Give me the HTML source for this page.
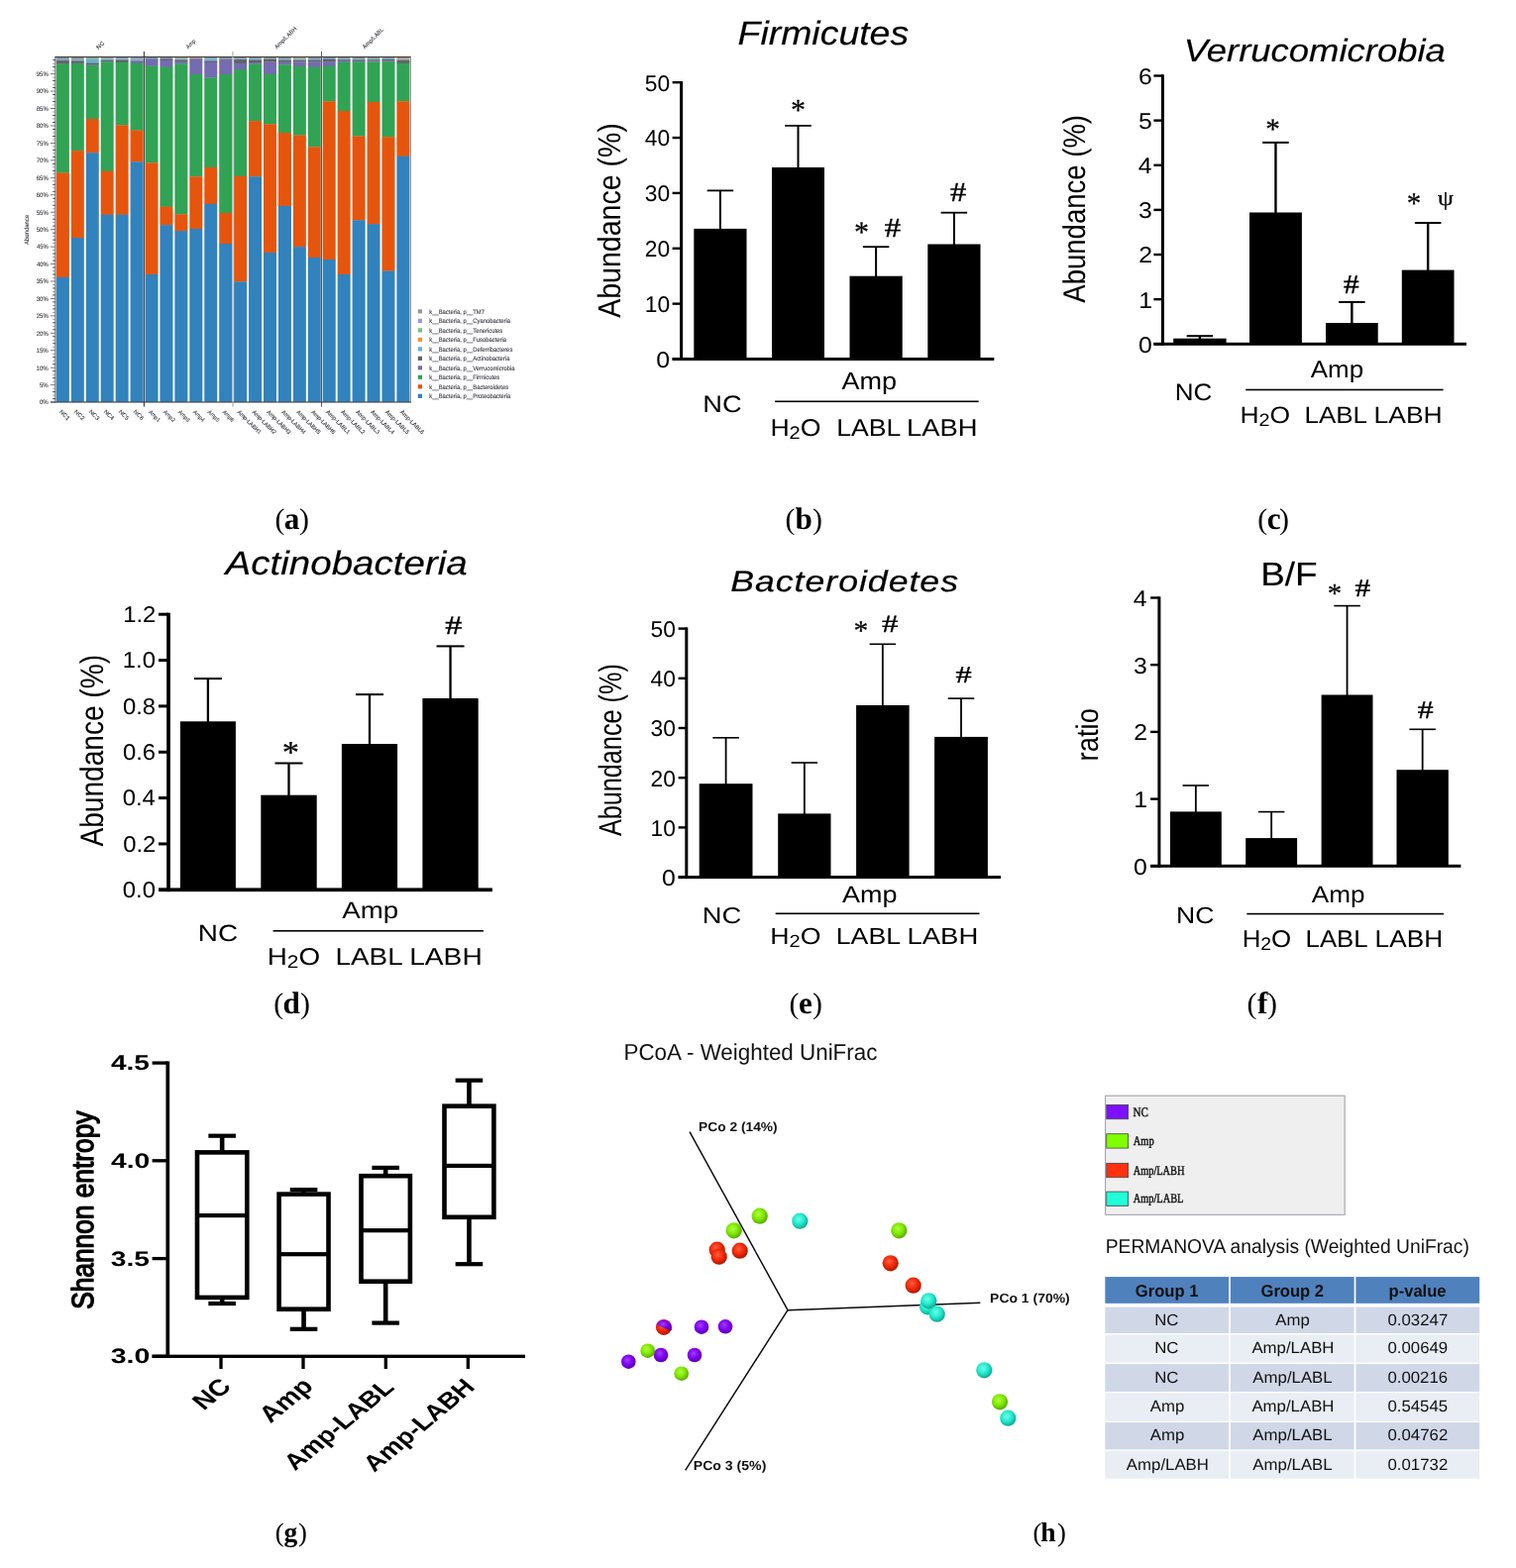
<!DOCTYPE html>
<html lang="en"><head><meta charset="utf-8"><title>Figure</title>
<style>html,body{margin:0;padding:0;background:#fff}svg{display:block}text{white-space:pre;text-rendering:geometricPrecision}</style></head>
<body>
<svg width="1530" height="1583" viewBox="0 0 1530 1583">
<rect width="1530" height="1583" fill="#fff"/>
<rect x="686.10" y="82.00" width="3.00" height="282.00" fill="#000"/>
<rect x="678.60" y="361.00" width="324.70" height="3.00" fill="#000"/>
<rect x="678.60" y="82.00" width="9.00" height="2.40" fill="#000"/>
<text transform="translate(650.74 91.60) scale(1.1377 1.1377)" font-family='"Liberation Sans", sans-serif' font-size="20" fill="#000">50</text>
<rect x="678.60" y="137.86" width="9.00" height="2.40" fill="#000"/>
<text transform="translate(650.74 147.46) scale(1.1377 1.1377)" font-family='"Liberation Sans", sans-serif' font-size="20" fill="#000">40</text>
<rect x="678.60" y="193.72" width="9.00" height="2.40" fill="#000"/>
<text transform="translate(650.74 203.32) scale(1.1377 1.1377)" font-family='"Liberation Sans", sans-serif' font-size="20" fill="#000">30</text>
<rect x="678.60" y="249.58" width="9.00" height="2.40" fill="#000"/>
<text transform="translate(650.74 259.18) scale(1.1377 1.1377)" font-family='"Liberation Sans", sans-serif' font-size="20" fill="#000">20</text>
<rect x="678.60" y="305.44" width="9.00" height="2.40" fill="#000"/>
<text transform="translate(650.74 315.04) scale(1.1377 1.1377)" font-family='"Liberation Sans", sans-serif' font-size="20" fill="#000">10</text>
<rect x="678.60" y="361.30" width="9.00" height="2.40" fill="#000"/>
<text transform="translate(662.30 370.90) scale(1.2401 1.1377)" font-family='"Liberation Sans", sans-serif' font-size="20" fill="#000">0</text>
<rect x="700.30" y="230.90" width="53.20" height="131.60" fill="#000"/>
<rect x="725.90" y="192.40" width="2.00" height="39.50" fill="#000"/>
<rect x="713.65" y="191.50" width="26.50" height="1.80" fill="#000"/>
<rect x="779.00" y="169.00" width="53.00" height="193.50" fill="#000"/>
<rect x="804.50" y="126.90" width="2.00" height="43.10" fill="#000"/>
<rect x="792.25" y="126.00" width="26.50" height="1.80" fill="#000"/>
<rect x="857.50" y="278.70" width="53.20" height="83.80" fill="#000"/>
<rect x="883.10" y="249.20" width="2.00" height="30.50" fill="#000"/>
<rect x="870.85" y="248.30" width="26.50" height="1.80" fill="#000"/>
<rect x="936.30" y="246.50" width="53.20" height="116.00" fill="#000"/>
<rect x="961.90" y="214.70" width="2.00" height="32.80" fill="#000"/>
<rect x="949.65" y="213.80" width="26.50" height="1.80" fill="#000"/>
<text transform="translate(744.58 44.60) scale(1.8706 1.6884)" font-family='"Liberation Sans", sans-serif' font-size="20" fill="#000" font-style="italic" stroke="#000" stroke-width="0.1">Firmicutes</text>
<text transform="rotate(-90 602.60 320.80) translate(602.60 344.14) scale(1.4261 1.6096)" font-family='"Liberation Sans", sans-serif' font-size="20" fill="#000">Abundance (%)</text>
<text transform="translate(709.32 415.80) scale(1.3623 1.1957)" font-family='"Liberation Sans", sans-serif' font-size="20" fill="#000">NC</text>
<text transform="translate(849.40 392.80) scale(1.3499 1.2319)" font-family='"Liberation Sans", sans-serif' font-size="20" fill="#000">Amp</text>
<text transform="translate(777.57 439.50) scale(1.3331 1.2101)" font-family='"Liberation Sans", sans-serif' font-size="20" fill="#000">H<tspan x="14.29" dy="2.90" font-size="15.00">2</tspan><tspan x="22.67" dy="-2.90">O</tspan></text>
<text transform="translate(844.17 439.50) scale(1.3319 1.2101)" font-family='"Liberation Sans", sans-serif' font-size="20" fill="#000">LABL</text>
<text transform="translate(915.01 439.50) scale(1.3694 1.2101)" font-family='"Liberation Sans", sans-serif' font-size="20" fill="#000">LABH</text>
<rect x="782.10" y="404.50" width="205.60" height="1.60" fill="#000"/>
<text transform="translate(797.90 121.00) scale(1.5000 1.5342)" font-family='"Liberation Serif", serif' font-size="20" fill="#000" stroke="#000" stroke-width="0.15">*</text>
<text transform="translate(861.90 244.36) scale(1.5000 1.4932)" font-family='"Liberation Serif", serif' font-size="20" fill="#000" stroke="#000" stroke-width="0.15">*</text>
<text transform="translate(892.65 238.90) scale(1.6304 1.3740)" font-family='"Liberation Serif", serif' font-size="20" fill="#000" stroke="#000" stroke-width="0.3">#</text>
<text transform="translate(958.95 202.80) scale(1.6196 1.3740)" font-family='"Liberation Serif", serif' font-size="20" fill="#000" stroke="#000" stroke-width="0.3">#</text>
<rect x="1171.90" y="75.30" width="3.00" height="273.50" fill="#000"/>
<rect x="1164.40" y="345.80" width="315.60" height="3.00" fill="#000"/>
<rect x="1164.40" y="75.30" width="9.00" height="2.40" fill="#000"/>
<text transform="translate(1149.03 84.90) scale(1.2401 1.1377)" font-family='"Liberation Sans", sans-serif' font-size="20" fill="#000">6</text>
<rect x="1164.40" y="120.43" width="9.00" height="2.40" fill="#000"/>
<text transform="translate(1149.03 130.03) scale(1.2401 1.1377)" font-family='"Liberation Sans", sans-serif' font-size="20" fill="#000">5</text>
<rect x="1164.40" y="165.57" width="9.00" height="2.40" fill="#000"/>
<text transform="translate(1148.78 175.17) scale(1.2401 1.1377)" font-family='"Liberation Sans", sans-serif' font-size="20" fill="#000">4</text>
<rect x="1164.40" y="210.70" width="9.00" height="2.40" fill="#000"/>
<text transform="translate(1149.03 220.30) scale(1.2401 1.1377)" font-family='"Liberation Sans", sans-serif' font-size="20" fill="#000">3</text>
<rect x="1164.40" y="255.83" width="9.00" height="2.40" fill="#000"/>
<text transform="translate(1149.28 265.43) scale(1.2401 1.1377)" font-family='"Liberation Sans", sans-serif' font-size="20" fill="#000">2</text>
<rect x="1164.40" y="300.97" width="9.00" height="2.40" fill="#000"/>
<text transform="translate(1149.15 310.57) scale(1.2401 1.1377)" font-family='"Liberation Sans", sans-serif' font-size="20" fill="#000">1</text>
<rect x="1164.40" y="346.10" width="9.00" height="2.40" fill="#000"/>
<text transform="translate(1148.90 355.70) scale(1.2401 1.1377)" font-family='"Liberation Sans", sans-serif' font-size="20" fill="#000">0</text>
<rect x="1184.20" y="341.70" width="53.40" height="5.60" fill="#000"/>
<rect x="1209.70" y="339.20" width="2.40" height="3.50" fill="#000"/>
<rect x="1197.65" y="338.20" width="26.50" height="2.00" fill="#000"/>
<rect x="1261.00" y="214.50" width="52.90" height="132.80" fill="#000"/>
<rect x="1286.25" y="143.90" width="2.40" height="71.60" fill="#000"/>
<rect x="1274.20" y="142.90" width="26.50" height="2.00" fill="#000"/>
<rect x="1338.00" y="326.00" width="52.70" height="21.30" fill="#000"/>
<rect x="1363.15" y="305.00" width="2.40" height="22.00" fill="#000"/>
<rect x="1351.10" y="304.00" width="26.50" height="2.00" fill="#000"/>
<rect x="1414.80" y="272.60" width="52.70" height="74.70" fill="#000"/>
<rect x="1439.95" y="225.00" width="2.40" height="48.60" fill="#000"/>
<rect x="1427.90" y="224.00" width="26.50" height="2.00" fill="#000"/>
<text transform="translate(1194.80 62.00) scale(1.8223 1.6087)" font-family='"Liberation Sans", sans-serif' font-size="20" fill="#000" font-style="italic" stroke="#000" stroke-width="0.1">Verrucomicrobia</text>
<text transform="rotate(-90 1072.10 305.70) translate(1072.10 328.50) scale(1.3763 1.5722)" font-family='"Liberation Sans", sans-serif' font-size="20" fill="#000">Abundance (%)</text>
<text transform="translate(1185.72 403.60) scale(1.3019 1.1957)" font-family='"Liberation Sans", sans-serif' font-size="20" fill="#000">NC</text>
<text transform="translate(1322.70 381.20) scale(1.2978 1.2101)" font-family='"Liberation Sans", sans-serif' font-size="20" fill="#000">Amp</text>
<text transform="translate(1251.58 426.60) scale(1.3247 1.1884)" font-family='"Liberation Sans", sans-serif' font-size="20" fill="#000">H<tspan x="14.29" dy="2.90" font-size="15.00">2</tspan><tspan x="22.67" dy="-2.90">O</tspan></text>
<text transform="translate(1316.42 426.60) scale(1.2998 1.1884)" font-family='"Liberation Sans", sans-serif' font-size="20" fill="#000">LABL</text>
<text transform="translate(1386.48 426.60) scale(1.3245 1.1884)" font-family='"Liberation Sans", sans-serif' font-size="20" fill="#000">LABH</text>
<rect x="1257.20" y="392.70" width="199.40" height="1.60" fill="#000"/>
<text transform="translate(1277.34 139.66) scale(1.4625 1.4932)" font-family='"Liberation Serif", serif' font-size="20" fill="#000" stroke="#000" stroke-width="0.15">*</text>
<text transform="translate(1356.07 295.50) scale(1.5652 1.3588)" font-family='"Liberation Serif", serif' font-size="20" fill="#000" stroke="#000" stroke-width="0.3">#</text>
<text transform="translate(1419.85 215.44) scale(1.4500 1.5068)" font-family='"Liberation Serif", serif' font-size="20" fill="#000" stroke="#000" stroke-width="0.15">*</text>
<text transform="translate(1450.92 207.44) scale(1.2667 1.0610)" font-family='"Liberation Serif", serif' font-size="20" fill="#000" stroke="#000" stroke-width="0.3">ψ</text>
<rect x="168.15" y="618.70" width="3.70" height="281.45" fill="#000"/>
<rect x="160.00" y="896.45" width="336.90" height="3.70" fill="#000"/>
<rect x="160.00" y="618.70" width="10.00" height="3.00" fill="#000"/>
<text transform="translate(124.19 627.80) scale(1.1907 1.1449)" font-family='"Liberation Sans", sans-serif' font-size="20" fill="#000">1.2</text>
<rect x="160.00" y="665.05" width="10.00" height="3.00" fill="#000"/>
<text transform="translate(123.83 674.15) scale(1.1907 1.1449)" font-family='"Liberation Sans", sans-serif' font-size="20" fill="#000">1.0</text>
<rect x="160.00" y="711.40" width="10.00" height="3.00" fill="#000"/>
<text transform="translate(123.95 720.50) scale(1.1907 1.1449)" font-family='"Liberation Sans", sans-serif' font-size="20" fill="#000">0.8</text>
<rect x="160.00" y="757.75" width="10.00" height="3.00" fill="#000"/>
<text transform="translate(123.95 766.85) scale(1.1907 1.1449)" font-family='"Liberation Sans", sans-serif' font-size="20" fill="#000">0.6</text>
<rect x="160.00" y="804.10" width="10.00" height="3.00" fill="#000"/>
<text transform="translate(123.71 813.20) scale(1.1907 1.1449)" font-family='"Liberation Sans", sans-serif' font-size="20" fill="#000">0.4</text>
<rect x="160.00" y="850.45" width="10.00" height="3.00" fill="#000"/>
<text transform="translate(124.19 859.55) scale(1.1907 1.1449)" font-family='"Liberation Sans", sans-serif' font-size="20" fill="#000">0.2</text>
<rect x="160.00" y="896.80" width="10.00" height="3.00" fill="#000"/>
<text transform="translate(123.83 905.90) scale(1.1907 1.1449)" font-family='"Liberation Sans", sans-serif' font-size="20" fill="#000">0.0</text>
<rect x="181.90" y="728.30" width="56.00" height="170.00" fill="#000"/>
<rect x="208.75" y="685.10" width="2.30" height="44.20" fill="#000"/>
<rect x="195.90" y="684.10" width="28.00" height="2.00" fill="#000"/>
<rect x="263.30" y="802.70" width="56.40" height="95.60" fill="#000"/>
<rect x="290.35" y="770.50" width="2.30" height="33.20" fill="#000"/>
<rect x="277.50" y="769.50" width="28.00" height="2.00" fill="#000"/>
<rect x="344.90" y="751.00" width="56.20" height="147.30" fill="#000"/>
<rect x="371.85" y="701.10" width="2.30" height="50.90" fill="#000"/>
<rect x="359.00" y="700.10" width="28.00" height="2.00" fill="#000"/>
<rect x="426.40" y="705.00" width="56.30" height="193.30" fill="#000"/>
<rect x="453.40" y="652.40" width="2.30" height="53.60" fill="#000"/>
<rect x="440.55" y="651.40" width="28.00" height="2.00" fill="#000"/>
<text transform="translate(227.53 580.30) scale(1.9268 1.6884)" font-family='"Liberation Sans", sans-serif' font-size="20" fill="#000" font-style="italic" stroke="#000" stroke-width="0.1">Actinobacteria</text>
<text transform="rotate(-90 79.70 854.60) translate(79.70 878.40) scale(1.4048 1.6417)" font-family='"Liberation Sans", sans-serif' font-size="20" fill="#000">Abundance (%)</text>
<text transform="translate(199.77 949.50) scale(1.3962 1.1739)" font-family='"Liberation Sans", sans-serif' font-size="20" fill="#000">NC</text>
<text transform="translate(345.30 927.10) scale(1.3846 1.1812)" font-family='"Liberation Sans", sans-serif' font-size="20" fill="#000">Amp</text>
<text transform="translate(269.87 973.50) scale(1.3922 1.2101)" font-family='"Liberation Sans", sans-serif' font-size="20" fill="#000">H<tspan x="14.29" dy="2.90" font-size="15.00">2</tspan><tspan x="22.67" dy="-2.90">O</tspan></text>
<text transform="translate(338.47 973.50) scale(1.3961 1.2101)" font-family='"Liberation Sans", sans-serif' font-size="20" fill="#000">LABL</text>
<text transform="translate(413.15 973.50) scale(1.4082 1.2101)" font-family='"Liberation Sans", sans-serif' font-size="20" fill="#000">LABH</text>
<rect x="275.60" y="939.00" width="212.30" height="1.60" fill="#000"/>
<text transform="translate(284.68 770.30) scale(1.7250 1.6027)" font-family='"Liberation Serif", serif' font-size="20" fill="#000" stroke="#000" stroke-width="0.15">*</text>
<text transform="translate(449.32 640.30) scale(1.7065 1.3206)" font-family='"Liberation Serif", serif' font-size="20" fill="#000" stroke="#000" stroke-width="0.3">#</text>
<rect x="691.30" y="633.40" width="3.00" height="253.70" fill="#000"/>
<rect x="684.60" y="884.10" width="325.40" height="3.00" fill="#000"/>
<rect x="684.60" y="633.40" width="8.20" height="2.40" fill="#000"/>
<text transform="translate(656.54 643.00) scale(1.1377 1.1377)" font-family='"Liberation Sans", sans-serif' font-size="20" fill="#000">50</text>
<rect x="684.60" y="683.60" width="8.20" height="2.40" fill="#000"/>
<text transform="translate(656.54 693.20) scale(1.1377 1.1377)" font-family='"Liberation Sans", sans-serif' font-size="20" fill="#000">40</text>
<rect x="684.60" y="733.80" width="8.20" height="2.40" fill="#000"/>
<text transform="translate(656.54 743.40) scale(1.1377 1.1377)" font-family='"Liberation Sans", sans-serif' font-size="20" fill="#000">30</text>
<rect x="684.60" y="784.00" width="8.20" height="2.40" fill="#000"/>
<text transform="translate(656.54 793.60) scale(1.1377 1.1377)" font-family='"Liberation Sans", sans-serif' font-size="20" fill="#000">20</text>
<rect x="684.60" y="834.20" width="8.20" height="2.40" fill="#000"/>
<text transform="translate(656.54 843.80) scale(1.1377 1.1377)" font-family='"Liberation Sans", sans-serif' font-size="20" fill="#000">10</text>
<rect x="684.60" y="884.40" width="8.20" height="2.40" fill="#000"/>
<text transform="translate(668.10 894.00) scale(1.2401 1.1377)" font-family='"Liberation Sans", sans-serif' font-size="20" fill="#000">0</text>
<rect x="705.70" y="791.20" width="53.80" height="94.40" fill="#000"/>
<rect x="731.70" y="744.80" width="1.80" height="47.40" fill="#000"/>
<rect x="719.35" y="744.00" width="26.50" height="1.60" fill="#000"/>
<rect x="785.20" y="821.40" width="53.30" height="64.20" fill="#000"/>
<rect x="810.95" y="770.00" width="1.80" height="52.40" fill="#000"/>
<rect x="798.60" y="769.20" width="26.50" height="1.60" fill="#000"/>
<rect x="864.10" y="712.00" width="53.50" height="173.60" fill="#000"/>
<rect x="889.95" y="650.30" width="1.80" height="62.70" fill="#000"/>
<rect x="877.60" y="649.50" width="26.50" height="1.60" fill="#000"/>
<rect x="943.10" y="743.90" width="53.80" height="141.70" fill="#000"/>
<rect x="969.10" y="705.10" width="1.80" height="39.80" fill="#000"/>
<rect x="956.75" y="704.30" width="26.50" height="1.60" fill="#000"/>
<text transform="translate(737.23 597.00) scale(1.7826 1.4855)" font-family='"Liberation Sans", sans-serif' font-size="20" letter-spacing="0.550" fill="#000" font-style="italic" stroke="#000" stroke-width="0.15">Bacteroidetes</text>
<text transform="rotate(-90 603.30 844.10) translate(603.30 867.52) scale(1.2613 1.6150)" font-family='"Liberation Sans", sans-serif' font-size="20" fill="#000">Abundance (%)</text>
<text transform="translate(708.71 931.80) scale(1.3660 1.1377)" font-family='"Liberation Sans", sans-serif' font-size="20" fill="#000">NC</text>
<text transform="translate(850.00 910.80) scale(1.3499 1.1812)" font-family='"Liberation Sans", sans-serif' font-size="20" fill="#000">Amp</text>
<text transform="translate(777.36 953.10) scale(1.3359 1.1667)" font-family='"Liberation Sans", sans-serif' font-size="20" fill="#000">H<tspan x="14.29" dy="2.90" font-size="15.00">2</tspan><tspan x="22.67" dy="-2.90">O</tspan></text>
<text transform="translate(843.77 953.10) scale(1.3340 1.1667)" font-family='"Liberation Sans", sans-serif' font-size="20" fill="#000">LABL</text>
<text transform="translate(915.40 953.10) scale(1.3755 1.1667)" font-family='"Liberation Sans", sans-serif' font-size="20" fill="#000">LABH</text>
<rect x="782.70" y="921.50" width="205.80" height="1.60" fill="#000"/>
<text transform="translate(861.62 645.84) scale(1.4750 1.4384)" font-family='"Liberation Serif", serif' font-size="20" fill="#000" stroke="#000" stroke-width="0.15">*</text>
<text transform="translate(889.94 638.20) scale(1.6522 1.2443)" font-family='"Liberation Serif", serif' font-size="20" fill="#000" stroke="#000" stroke-width="0.3">#</text>
<text transform="translate(964.45 688.60) scale(1.6196 1.1985)" font-family='"Liberation Serif", serif' font-size="20" fill="#000" stroke="#000" stroke-width="0.3">#</text>
<rect x="1168.40" y="602.30" width="3.00" height="273.50" fill="#000"/>
<rect x="1161.10" y="872.80" width="313.30" height="3.00" fill="#000"/>
<rect x="1161.10" y="602.30" width="8.80" height="2.40" fill="#000"/>
<text transform="translate(1143.78 611.90) scale(1.2401 1.1377)" font-family='"Liberation Sans", sans-serif' font-size="20" fill="#000">4</text>
<rect x="1161.10" y="670.00" width="8.80" height="2.40" fill="#000"/>
<text transform="translate(1144.03 679.60) scale(1.2401 1.1377)" font-family='"Liberation Sans", sans-serif' font-size="20" fill="#000">3</text>
<rect x="1161.10" y="737.70" width="8.80" height="2.40" fill="#000"/>
<text transform="translate(1144.28 747.30) scale(1.2401 1.1377)" font-family='"Liberation Sans", sans-serif' font-size="20" fill="#000">2</text>
<rect x="1161.10" y="805.40" width="8.80" height="2.40" fill="#000"/>
<text transform="translate(1144.15 815.00) scale(1.2401 1.1377)" font-family='"Liberation Sans", sans-serif' font-size="20" fill="#000">1</text>
<rect x="1161.10" y="873.10" width="8.80" height="2.40" fill="#000"/>
<text transform="translate(1143.90 882.70) scale(1.2401 1.1377)" font-family='"Liberation Sans", sans-serif' font-size="20" fill="#000">0</text>
<rect x="1180.90" y="819.40" width="51.90" height="54.90" fill="#000"/>
<rect x="1205.95" y="793.00" width="1.80" height="27.40" fill="#000"/>
<rect x="1193.60" y="792.20" width="26.50" height="1.60" fill="#000"/>
<rect x="1257.20" y="846.10" width="51.90" height="28.20" fill="#000"/>
<rect x="1282.25" y="819.60" width="1.80" height="27.50" fill="#000"/>
<rect x="1269.90" y="818.80" width="26.50" height="1.60" fill="#000"/>
<rect x="1333.60" y="701.50" width="51.90" height="172.80" fill="#000"/>
<rect x="1358.65" y="611.60" width="1.80" height="90.90" fill="#000"/>
<rect x="1346.30" y="610.80" width="26.50" height="1.60" fill="#000"/>
<rect x="1409.50" y="777.20" width="52.30" height="97.10" fill="#000"/>
<rect x="1434.75" y="736.30" width="1.80" height="41.90" fill="#000"/>
<rect x="1422.40" y="735.50" width="26.50" height="1.60" fill="#000"/>
<text transform="translate(1272.15 590.60) scale(1.8432 1.6739)" font-family='"Liberation Sans", sans-serif' font-size="20" fill="#000" stroke="#000" stroke-width="0.1">B/F</text>
<text transform="rotate(-90 1084.90 766.70) translate(1083.12 789.39) scale(1.3723 1.5646)" font-family='"Liberation Sans", sans-serif' font-size="20" fill="#000">ratio</text>
<text transform="translate(1187.07 932.20) scale(1.3283 1.1667)" font-family='"Liberation Sans", sans-serif' font-size="20" fill="#000">NC</text>
<text transform="translate(1323.80 910.80) scale(1.3077 1.1812)" font-family='"Liberation Sans", sans-serif' font-size="20" fill="#000">Amp</text>
<text transform="translate(1253.73 955.80) scale(1.2938 1.2101)" font-family='"Liberation Sans", sans-serif' font-size="20" fill="#000">H<tspan x="14.29" dy="2.90" font-size="15.00">2</tspan><tspan x="22.67" dy="-2.90">O</tspan></text>
<text transform="translate(1317.54 955.80) scale(1.2891 1.2101)" font-family='"Liberation Sans", sans-serif' font-size="20" fill="#000">LABL</text>
<text transform="translate(1387.60 955.80) scale(1.3102 1.2101)" font-family='"Liberation Sans", sans-serif' font-size="20" fill="#000">LABH</text>
<rect x="1258.30" y="921.80" width="198.70" height="1.60" fill="#000"/>
<text transform="translate(1339.86 608.42) scale(1.4375 1.3836)" font-family='"Liberation Serif", serif' font-size="20" fill="#000" stroke="#000" stroke-width="0.15">*</text>
<text transform="translate(1367.38 602.10) scale(1.5435 1.2595)" font-family='"Liberation Serif", serif' font-size="20" fill="#000" stroke="#000" stroke-width="0.3">#</text>
<text transform="translate(1430.87 725.20) scale(1.5870 1.2595)" font-family='"Liberation Serif", serif' font-size="20" fill="#000" stroke="#000" stroke-width="0.3">#</text>
<rect x="56.90" y="57.90" width="13.00" height="2.11" fill="#999999"/>
<rect x="56.90" y="59.71" width="13.00" height="1.70" fill="#6baed6"/>
<rect x="56.90" y="61.11" width="13.00" height="3.72" fill="#636363"/>
<rect x="56.90" y="64.53" width="13.00" height="110.20" fill="#31a354"/>
<rect x="56.90" y="174.43" width="13.00" height="105.67" fill="#e6550d"/>
<rect x="56.90" y="279.80" width="13.00" height="126.30" fill="#3182bd"/>
<rect x="71.83" y="57.90" width="13.00" height="2.64" fill="#999999"/>
<rect x="71.83" y="60.24" width="13.00" height="1.52" fill="#6baed6"/>
<rect x="71.83" y="61.46" width="13.00" height="2.50" fill="#636363"/>
<rect x="71.83" y="63.65" width="13.00" height="0.47" fill="#756bb1"/>
<rect x="71.83" y="63.83" width="13.00" height="88.57" fill="#31a354"/>
<rect x="71.83" y="152.10" width="13.00" height="88.22" fill="#e6550d"/>
<rect x="71.83" y="240.02" width="13.00" height="166.08" fill="#3182bd"/>
<rect x="86.77" y="57.90" width="13.00" height="2.46" fill="#8fb595"/>
<rect x="86.77" y="60.06" width="13.00" height="3.96" fill="#6baed6"/>
<rect x="86.77" y="63.72" width="13.00" height="1.97" fill="#636363"/>
<rect x="86.77" y="65.40" width="13.00" height="0.82" fill="#756bb1"/>
<rect x="86.77" y="65.92" width="13.00" height="54.38" fill="#31a354"/>
<rect x="86.77" y="120.00" width="13.00" height="34.49" fill="#e6550d"/>
<rect x="86.77" y="154.19" width="13.00" height="251.91" fill="#3182bd"/>
<rect x="101.70" y="57.90" width="13.00" height="1.59" fill="#c8a078"/>
<rect x="101.70" y="59.19" width="13.00" height="2.04" fill="#6baed6"/>
<rect x="101.70" y="60.93" width="13.00" height="1.63" fill="#636363"/>
<rect x="101.70" y="62.26" width="13.00" height="110.73" fill="#31a354"/>
<rect x="101.70" y="172.69" width="13.00" height="44.26" fill="#e6550d"/>
<rect x="101.70" y="216.65" width="13.00" height="189.45" fill="#3182bd"/>
<rect x="116.64" y="57.90" width="13.00" height="1.76" fill="#999999"/>
<rect x="116.64" y="59.36" width="13.00" height="1.52" fill="#6baed6"/>
<rect x="116.64" y="60.58" width="13.00" height="2.50" fill="#636363"/>
<rect x="116.64" y="62.78" width="13.00" height="63.80" fill="#31a354"/>
<rect x="116.64" y="126.28" width="13.00" height="90.67" fill="#e6550d"/>
<rect x="116.64" y="216.65" width="13.00" height="189.45" fill="#3182bd"/>
<rect x="131.57" y="57.90" width="13.00" height="2.64" fill="#a09cc0"/>
<rect x="131.57" y="60.24" width="13.00" height="1.70" fill="#6baed6"/>
<rect x="131.57" y="61.63" width="13.00" height="1.28" fill="#636363"/>
<rect x="131.57" y="62.61" width="13.00" height="1.52" fill="#756bb1"/>
<rect x="131.57" y="63.83" width="13.00" height="67.99" fill="#31a354"/>
<rect x="131.57" y="131.52" width="13.00" height="32.05" fill="#e6550d"/>
<rect x="131.57" y="163.27" width="13.00" height="242.83" fill="#3182bd"/>
<rect x="146.51" y="57.90" width="13.00" height="1.24" fill="#999999"/>
<rect x="146.51" y="58.84" width="13.00" height="1.17" fill="#6baed6"/>
<rect x="146.51" y="59.71" width="13.00" height="0.40" fill="#636363"/>
<rect x="146.51" y="59.82" width="13.00" height="7.10" fill="#756bb1"/>
<rect x="146.51" y="66.62" width="13.00" height="97.99" fill="#31a354"/>
<rect x="146.51" y="164.31" width="13.00" height="112.99" fill="#e6550d"/>
<rect x="146.51" y="277.01" width="13.00" height="129.09" fill="#3182bd"/>
<rect x="161.44" y="57.90" width="13.00" height="1.59" fill="#999999"/>
<rect x="161.44" y="59.19" width="13.00" height="0.47" fill="#6baed6"/>
<rect x="161.44" y="59.36" width="13.00" height="1.80" fill="#636363"/>
<rect x="161.44" y="60.86" width="13.00" height="7.10" fill="#756bb1"/>
<rect x="161.44" y="67.67" width="13.00" height="141.26" fill="#31a354"/>
<rect x="161.44" y="208.62" width="13.00" height="18.79" fill="#e6550d"/>
<rect x="161.44" y="227.11" width="13.00" height="178.99" fill="#3182bd"/>
<rect x="176.38" y="57.90" width="13.00" height="1.59" fill="#c8a078"/>
<rect x="176.38" y="59.19" width="13.00" height="1.70" fill="#6baed6"/>
<rect x="176.38" y="60.58" width="13.00" height="1.80" fill="#636363"/>
<rect x="176.38" y="62.08" width="13.00" height="2.39" fill="#756bb1"/>
<rect x="176.38" y="64.18" width="13.00" height="152.42" fill="#31a354"/>
<rect x="176.38" y="216.30" width="13.00" height="17.05" fill="#e6550d"/>
<rect x="176.38" y="233.05" width="13.00" height="173.05" fill="#3182bd"/>
<rect x="191.31" y="57.90" width="13.00" height="1.41" fill="#c8a078"/>
<rect x="191.31" y="59.01" width="13.00" height="0.65" fill="#6baed6"/>
<rect x="191.31" y="59.36" width="13.00" height="0.40" fill="#636363"/>
<rect x="191.31" y="59.47" width="13.00" height="15.83" fill="#756bb1"/>
<rect x="191.31" y="74.99" width="13.00" height="103.57" fill="#31a354"/>
<rect x="191.31" y="178.27" width="13.00" height="52.98" fill="#e6550d"/>
<rect x="191.31" y="230.95" width="13.00" height="175.15" fill="#3182bd"/>
<rect x="206.25" y="57.90" width="13.00" height="1.76" fill="#999999"/>
<rect x="206.25" y="59.36" width="13.00" height="2.57" fill="#6baed6"/>
<rect x="206.25" y="61.63" width="13.00" height="1.63" fill="#636363"/>
<rect x="206.25" y="62.96" width="13.00" height="15.83" fill="#756bb1"/>
<rect x="206.25" y="78.48" width="13.00" height="90.67" fill="#31a354"/>
<rect x="206.25" y="168.85" width="13.00" height="37.28" fill="#e6550d"/>
<rect x="206.25" y="205.83" width="13.00" height="200.27" fill="#3182bd"/>
<rect x="221.19" y="57.90" width="13.00" height="1.94" fill="#999999"/>
<rect x="221.19" y="59.54" width="13.00" height="0.47" fill="#6baed6"/>
<rect x="221.19" y="59.71" width="13.00" height="1.10" fill="#636363"/>
<rect x="221.19" y="60.51" width="13.00" height="14.78" fill="#756bb1"/>
<rect x="221.19" y="74.99" width="13.00" height="140.21" fill="#31a354"/>
<rect x="221.19" y="214.90" width="13.00" height="31.35" fill="#e6550d"/>
<rect x="221.19" y="245.95" width="13.00" height="160.15" fill="#3182bd"/>
<rect x="236.12" y="57.90" width="13.00" height="1.59" fill="#999999"/>
<rect x="236.12" y="59.19" width="13.00" height="1.17" fill="#6baed6"/>
<rect x="236.12" y="60.06" width="13.00" height="4.07" fill="#636363"/>
<rect x="236.12" y="63.83" width="13.00" height="6.41" fill="#756bb1"/>
<rect x="236.12" y="69.93" width="13.00" height="108.28" fill="#31a354"/>
<rect x="236.12" y="177.92" width="13.00" height="106.71" fill="#e6550d"/>
<rect x="236.12" y="284.33" width="13.00" height="121.77" fill="#3182bd"/>
<rect x="251.06" y="57.90" width="13.00" height="1.76" fill="#999999"/>
<rect x="251.06" y="59.36" width="13.00" height="1.52" fill="#6baed6"/>
<rect x="251.06" y="60.58" width="13.00" height="2.67" fill="#636363"/>
<rect x="251.06" y="62.96" width="13.00" height="1.87" fill="#756bb1"/>
<rect x="251.06" y="64.53" width="13.00" height="57.87" fill="#31a354"/>
<rect x="251.06" y="122.10" width="13.00" height="56.47" fill="#e6550d"/>
<rect x="251.06" y="178.27" width="13.00" height="227.83" fill="#3182bd"/>
<rect x="265.99" y="57.90" width="13.00" height="1.94" fill="#999999"/>
<rect x="265.99" y="59.54" width="13.00" height="0.47" fill="#6baed6"/>
<rect x="265.99" y="59.71" width="13.00" height="3.02" fill="#636363"/>
<rect x="265.99" y="62.43" width="13.00" height="12.86" fill="#756bb1"/>
<rect x="265.99" y="74.99" width="13.00" height="50.54" fill="#31a354"/>
<rect x="265.99" y="125.24" width="13.00" height="130.09" fill="#e6550d"/>
<rect x="265.99" y="255.03" width="13.00" height="151.07" fill="#3182bd"/>
<rect x="280.93" y="57.90" width="13.00" height="2.11" fill="#999999"/>
<rect x="280.93" y="59.71" width="13.00" height="1.52" fill="#6baed6"/>
<rect x="280.93" y="60.93" width="13.00" height="1.97" fill="#636363"/>
<rect x="280.93" y="62.61" width="13.00" height="2.92" fill="#756bb1"/>
<rect x="280.93" y="65.22" width="13.00" height="69.03" fill="#31a354"/>
<rect x="280.93" y="133.96" width="13.00" height="74.27" fill="#e6550d"/>
<rect x="280.93" y="207.92" width="13.00" height="198.18" fill="#3182bd"/>
<rect x="295.86" y="57.90" width="13.00" height="1.94" fill="#c8a078"/>
<rect x="295.86" y="59.54" width="13.00" height="1.70" fill="#6baed6"/>
<rect x="295.86" y="60.93" width="13.00" height="1.63" fill="#636363"/>
<rect x="295.86" y="62.26" width="13.00" height="5.01" fill="#756bb1"/>
<rect x="295.86" y="66.97" width="13.00" height="69.73" fill="#31a354"/>
<rect x="295.86" y="136.40" width="13.00" height="112.99" fill="#e6550d"/>
<rect x="295.86" y="249.10" width="13.00" height="157.00" fill="#3182bd"/>
<rect x="310.80" y="57.90" width="13.00" height="2.11" fill="#999999"/>
<rect x="310.80" y="59.71" width="13.00" height="1.35" fill="#6baed6"/>
<rect x="310.80" y="60.76" width="13.00" height="1.80" fill="#636363"/>
<rect x="310.80" y="62.26" width="13.00" height="5.71" fill="#756bb1"/>
<rect x="310.80" y="67.67" width="13.00" height="80.90" fill="#31a354"/>
<rect x="310.80" y="148.26" width="13.00" height="111.95" fill="#e6550d"/>
<rect x="310.80" y="259.91" width="13.00" height="146.19" fill="#3182bd"/>
<rect x="325.73" y="57.90" width="13.00" height="1.24" fill="#999999"/>
<rect x="325.73" y="58.84" width="13.00" height="1.17" fill="#6baed6"/>
<rect x="325.73" y="59.71" width="13.00" height="2.67" fill="#636363"/>
<rect x="325.73" y="62.08" width="13.00" height="5.01" fill="#756bb1"/>
<rect x="325.73" y="66.79" width="13.00" height="35.71" fill="#31a354"/>
<rect x="325.73" y="102.21" width="13.00" height="160.10" fill="#e6550d"/>
<rect x="325.73" y="262.00" width="13.00" height="144.10" fill="#3182bd"/>
<rect x="340.66" y="57.90" width="13.00" height="1.76" fill="#999999"/>
<rect x="340.66" y="59.36" width="13.00" height="1.17" fill="#6baed6"/>
<rect x="340.66" y="60.24" width="13.00" height="0.93" fill="#636363"/>
<rect x="340.66" y="60.86" width="13.00" height="2.04" fill="#756bb1"/>
<rect x="340.66" y="62.61" width="13.00" height="49.67" fill="#31a354"/>
<rect x="340.66" y="111.98" width="13.00" height="165.33" fill="#e6550d"/>
<rect x="340.66" y="277.01" width="13.00" height="129.09" fill="#3182bd"/>
<rect x="355.60" y="57.90" width="13.00" height="2.11" fill="#999999"/>
<rect x="355.60" y="59.71" width="13.00" height="1.17" fill="#6baed6"/>
<rect x="355.60" y="60.58" width="13.00" height="1.45" fill="#636363"/>
<rect x="355.60" y="61.74" width="13.00" height="1.00" fill="#756bb1"/>
<rect x="355.60" y="62.43" width="13.00" height="75.31" fill="#31a354"/>
<rect x="355.60" y="137.45" width="13.00" height="85.08" fill="#e6550d"/>
<rect x="355.60" y="222.23" width="13.00" height="183.87" fill="#3182bd"/>
<rect x="370.53" y="57.90" width="13.00" height="1.94" fill="#999999"/>
<rect x="370.53" y="59.54" width="13.00" height="1.00" fill="#6baed6"/>
<rect x="370.53" y="60.24" width="13.00" height="1.45" fill="#636363"/>
<rect x="370.53" y="61.39" width="13.00" height="1.17" fill="#756bb1"/>
<rect x="370.53" y="62.26" width="13.00" height="40.95" fill="#31a354"/>
<rect x="370.53" y="102.91" width="13.00" height="123.46" fill="#e6550d"/>
<rect x="370.53" y="226.07" width="13.00" height="180.03" fill="#3182bd"/>
<rect x="385.47" y="57.90" width="13.00" height="1.59" fill="#999999"/>
<rect x="385.47" y="59.19" width="13.00" height="1.00" fill="#6baed6"/>
<rect x="385.47" y="59.89" width="13.00" height="1.63" fill="#636363"/>
<rect x="385.47" y="61.21" width="13.00" height="1.17" fill="#756bb1"/>
<rect x="385.47" y="62.08" width="13.00" height="76.36" fill="#31a354"/>
<rect x="385.47" y="138.14" width="13.00" height="135.67" fill="#e6550d"/>
<rect x="385.47" y="273.52" width="13.00" height="132.58" fill="#3182bd"/>
<rect x="400.40" y="57.90" width="13.00" height="2.29" fill="#c8a078"/>
<rect x="400.40" y="59.89" width="13.00" height="1.35" fill="#6baed6"/>
<rect x="400.40" y="60.93" width="13.00" height="3.20" fill="#636363"/>
<rect x="400.40" y="63.83" width="13.00" height="38.68" fill="#31a354"/>
<rect x="400.40" y="102.21" width="13.00" height="55.78" fill="#e6550d"/>
<rect x="400.40" y="157.68" width="13.00" height="248.42" fill="#3182bd"/>
<rect x="55.30" y="57.05" width="359.50" height="1.00" fill="#2a2a2a"/>
<rect x="55.35" y="57.60" width="1.00" height="349.00" fill="#555"/>
<rect x="413.90" y="57.60" width="1.00" height="349.00" fill="#8a8a8a"/>
<rect x="51.00" y="405.35" width="363.90" height="1.20" fill="#4a4a4a"/>
<rect x="144.85" y="52.00" width="1.00" height="358.60" fill="#2a2a2a"/>
<rect x="234.45" y="52.00" width="1.00" height="358.60" fill="#a0a0a0"/>
<rect x="324.05" y="52.00" width="1.00" height="358.60" fill="#505050"/>
<rect x="51.00" y="405.65" width="4.90" height="0.90" fill="#6a6a6a"/>
<rect x="53.10" y="402.16" width="2.80" height="0.90" fill="#3a3a3a"/>
<rect x="53.10" y="398.67" width="2.80" height="0.90" fill="#8a8a8a"/>
<rect x="53.10" y="395.18" width="2.80" height="0.90" fill="#3a3a3a"/>
<rect x="53.10" y="391.69" width="2.80" height="0.90" fill="#8a8a8a"/>
<rect x="51.00" y="388.21" width="4.90" height="0.90" fill="#6a6a6a"/>
<rect x="53.10" y="384.72" width="2.80" height="0.90" fill="#8a8a8a"/>
<rect x="53.10" y="381.23" width="2.80" height="0.90" fill="#3a3a3a"/>
<rect x="53.10" y="377.74" width="2.80" height="0.90" fill="#8a8a8a"/>
<rect x="53.10" y="374.25" width="2.80" height="0.90" fill="#3a3a3a"/>
<rect x="51.00" y="370.76" width="4.90" height="0.90" fill="#6a6a6a"/>
<rect x="53.10" y="367.27" width="2.80" height="0.90" fill="#3a3a3a"/>
<rect x="53.10" y="363.78" width="2.80" height="0.90" fill="#8a8a8a"/>
<rect x="53.10" y="360.29" width="2.80" height="0.90" fill="#3a3a3a"/>
<rect x="53.10" y="356.80" width="2.80" height="0.90" fill="#8a8a8a"/>
<rect x="51.00" y="353.32" width="4.90" height="0.90" fill="#6a6a6a"/>
<rect x="53.10" y="349.83" width="2.80" height="0.90" fill="#8a8a8a"/>
<rect x="53.10" y="346.34" width="2.80" height="0.90" fill="#3a3a3a"/>
<rect x="53.10" y="342.85" width="2.80" height="0.90" fill="#8a8a8a"/>
<rect x="53.10" y="339.36" width="2.80" height="0.90" fill="#3a3a3a"/>
<rect x="51.00" y="335.87" width="4.90" height="0.90" fill="#6a6a6a"/>
<rect x="53.10" y="332.38" width="2.80" height="0.90" fill="#3a3a3a"/>
<rect x="53.10" y="328.89" width="2.80" height="0.90" fill="#8a8a8a"/>
<rect x="53.10" y="325.40" width="2.80" height="0.90" fill="#3a3a3a"/>
<rect x="53.10" y="321.91" width="2.80" height="0.90" fill="#8a8a8a"/>
<rect x="51.00" y="318.43" width="4.90" height="0.90" fill="#6a6a6a"/>
<rect x="53.10" y="314.94" width="2.80" height="0.90" fill="#8a8a8a"/>
<rect x="53.10" y="311.45" width="2.80" height="0.90" fill="#3a3a3a"/>
<rect x="53.10" y="307.96" width="2.80" height="0.90" fill="#8a8a8a"/>
<rect x="53.10" y="304.47" width="2.80" height="0.90" fill="#3a3a3a"/>
<rect x="51.00" y="300.98" width="4.90" height="0.90" fill="#6a6a6a"/>
<rect x="53.10" y="297.49" width="2.80" height="0.90" fill="#3a3a3a"/>
<rect x="53.10" y="294.00" width="2.80" height="0.90" fill="#8a8a8a"/>
<rect x="53.10" y="290.51" width="2.80" height="0.90" fill="#3a3a3a"/>
<rect x="53.10" y="287.02" width="2.80" height="0.90" fill="#8a8a8a"/>
<rect x="51.00" y="283.54" width="4.90" height="0.90" fill="#6a6a6a"/>
<rect x="53.10" y="280.05" width="2.80" height="0.90" fill="#8a8a8a"/>
<rect x="53.10" y="276.56" width="2.80" height="0.90" fill="#3a3a3a"/>
<rect x="53.10" y="273.07" width="2.80" height="0.90" fill="#8a8a8a"/>
<rect x="53.10" y="269.58" width="2.80" height="0.90" fill="#3a3a3a"/>
<rect x="51.00" y="266.09" width="4.90" height="0.90" fill="#6a6a6a"/>
<rect x="53.10" y="262.60" width="2.80" height="0.90" fill="#3a3a3a"/>
<rect x="53.10" y="259.11" width="2.80" height="0.90" fill="#8a8a8a"/>
<rect x="53.10" y="255.62" width="2.80" height="0.90" fill="#3a3a3a"/>
<rect x="53.10" y="252.13" width="2.80" height="0.90" fill="#8a8a8a"/>
<rect x="51.00" y="248.65" width="4.90" height="0.90" fill="#6a6a6a"/>
<rect x="53.10" y="245.16" width="2.80" height="0.90" fill="#8a8a8a"/>
<rect x="53.10" y="241.67" width="2.80" height="0.90" fill="#3a3a3a"/>
<rect x="53.10" y="238.18" width="2.80" height="0.90" fill="#8a8a8a"/>
<rect x="53.10" y="234.69" width="2.80" height="0.90" fill="#3a3a3a"/>
<rect x="51.00" y="231.20" width="4.90" height="0.90" fill="#6a6a6a"/>
<rect x="53.10" y="227.71" width="2.80" height="0.90" fill="#3a3a3a"/>
<rect x="53.10" y="224.22" width="2.80" height="0.90" fill="#8a8a8a"/>
<rect x="53.10" y="220.73" width="2.80" height="0.90" fill="#3a3a3a"/>
<rect x="53.10" y="217.24" width="2.80" height="0.90" fill="#8a8a8a"/>
<rect x="51.00" y="213.76" width="4.90" height="0.90" fill="#6a6a6a"/>
<rect x="53.10" y="210.27" width="2.80" height="0.90" fill="#8a8a8a"/>
<rect x="53.10" y="206.78" width="2.80" height="0.90" fill="#3a3a3a"/>
<rect x="53.10" y="203.29" width="2.80" height="0.90" fill="#8a8a8a"/>
<rect x="53.10" y="199.80" width="2.80" height="0.90" fill="#3a3a3a"/>
<rect x="51.00" y="196.31" width="4.90" height="0.90" fill="#6a6a6a"/>
<rect x="53.10" y="192.82" width="2.80" height="0.90" fill="#3a3a3a"/>
<rect x="53.10" y="189.33" width="2.80" height="0.90" fill="#8a8a8a"/>
<rect x="53.10" y="185.84" width="2.80" height="0.90" fill="#3a3a3a"/>
<rect x="53.10" y="182.35" width="2.80" height="0.90" fill="#8a8a8a"/>
<rect x="51.00" y="178.87" width="4.90" height="0.90" fill="#6a6a6a"/>
<rect x="53.10" y="175.38" width="2.80" height="0.90" fill="#8a8a8a"/>
<rect x="53.10" y="171.89" width="2.80" height="0.90" fill="#3a3a3a"/>
<rect x="53.10" y="168.40" width="2.80" height="0.90" fill="#8a8a8a"/>
<rect x="53.10" y="164.91" width="2.80" height="0.90" fill="#3a3a3a"/>
<rect x="51.00" y="161.42" width="4.90" height="0.90" fill="#6a6a6a"/>
<rect x="53.10" y="157.93" width="2.80" height="0.90" fill="#3a3a3a"/>
<rect x="53.10" y="154.44" width="2.80" height="0.90" fill="#8a8a8a"/>
<rect x="53.10" y="150.95" width="2.80" height="0.90" fill="#3a3a3a"/>
<rect x="53.10" y="147.46" width="2.80" height="0.90" fill="#8a8a8a"/>
<rect x="51.00" y="143.98" width="4.90" height="0.90" fill="#6a6a6a"/>
<rect x="53.10" y="140.49" width="2.80" height="0.90" fill="#8a8a8a"/>
<rect x="53.10" y="137.00" width="2.80" height="0.90" fill="#3a3a3a"/>
<rect x="53.10" y="133.51" width="2.80" height="0.90" fill="#8a8a8a"/>
<rect x="53.10" y="130.02" width="2.80" height="0.90" fill="#3a3a3a"/>
<rect x="51.00" y="126.53" width="4.90" height="0.90" fill="#6a6a6a"/>
<rect x="53.10" y="123.04" width="2.80" height="0.90" fill="#3a3a3a"/>
<rect x="53.10" y="119.55" width="2.80" height="0.90" fill="#8a8a8a"/>
<rect x="53.10" y="116.06" width="2.80" height="0.90" fill="#3a3a3a"/>
<rect x="53.10" y="112.57" width="2.80" height="0.90" fill="#8a8a8a"/>
<rect x="51.00" y="109.09" width="4.90" height="0.90" fill="#6a6a6a"/>
<rect x="53.10" y="105.60" width="2.80" height="0.90" fill="#8a8a8a"/>
<rect x="53.10" y="102.11" width="2.80" height="0.90" fill="#3a3a3a"/>
<rect x="53.10" y="98.62" width="2.80" height="0.90" fill="#8a8a8a"/>
<rect x="53.10" y="95.13" width="2.80" height="0.90" fill="#3a3a3a"/>
<rect x="51.00" y="91.64" width="4.90" height="0.90" fill="#6a6a6a"/>
<rect x="53.10" y="88.15" width="2.80" height="0.90" fill="#3a3a3a"/>
<rect x="53.10" y="84.66" width="2.80" height="0.90" fill="#8a8a8a"/>
<rect x="53.10" y="81.17" width="2.80" height="0.90" fill="#3a3a3a"/>
<rect x="53.10" y="77.68" width="2.80" height="0.90" fill="#8a8a8a"/>
<rect x="51.00" y="74.20" width="4.90" height="0.90" fill="#6a6a6a"/>
<rect x="53.10" y="70.71" width="2.80" height="0.90" fill="#8a8a8a"/>
<rect x="53.10" y="67.22" width="2.80" height="0.90" fill="#3a3a3a"/>
<rect x="53.10" y="63.73" width="2.80" height="0.90" fill="#8a8a8a"/>
<rect x="53.10" y="60.24" width="2.80" height="0.90" fill="#3a3a3a"/>
<text transform="translate(39.95 408.44) scale(0.3066 0.3239)" font-family='"Liberation Sans", sans-serif' font-size="20" fill="#3a3a42" stroke="#3a3a42" stroke-width="0.35">0%</text>
<text transform="translate(39.95 390.99) scale(0.3066 0.3262)" font-family='"Liberation Sans", sans-serif' font-size="20" fill="#3a3a42" stroke="#3a3a42" stroke-width="0.35">5%</text>
<text transform="translate(36.54 373.55) scale(0.3069 0.3239)" font-family='"Liberation Sans", sans-serif' font-size="20" fill="#3a3a42" stroke="#3a3a42" stroke-width="0.35">10%</text>
<text transform="translate(36.54 356.10) scale(0.3069 0.3262)" font-family='"Liberation Sans", sans-serif' font-size="20" fill="#3a3a42" stroke="#3a3a42" stroke-width="0.35">15%</text>
<text transform="translate(36.70 338.66) scale(0.3029 0.3239)" font-family='"Liberation Sans", sans-serif' font-size="20" fill="#3a3a42" stroke="#3a3a42" stroke-width="0.35">20%</text>
<text transform="translate(36.70 321.21) scale(0.3029 0.3239)" font-family='"Liberation Sans", sans-serif' font-size="20" fill="#3a3a42" stroke="#3a3a42" stroke-width="0.35">25%</text>
<text transform="translate(36.76 303.77) scale(0.3013 0.3239)" font-family='"Liberation Sans", sans-serif' font-size="20" fill="#3a3a42" stroke="#3a3a42" stroke-width="0.35">30%</text>
<text transform="translate(36.76 286.32) scale(0.3013 0.3239)" font-family='"Liberation Sans", sans-serif' font-size="20" fill="#3a3a42" stroke="#3a3a42" stroke-width="0.35">35%</text>
<text transform="translate(36.88 268.88) scale(0.2982 0.3239)" font-family='"Liberation Sans", sans-serif' font-size="20" fill="#3a3a42" stroke="#3a3a42" stroke-width="0.35">40%</text>
<text transform="translate(36.88 251.43) scale(0.2982 0.3262)" font-family='"Liberation Sans", sans-serif' font-size="20" fill="#3a3a42" stroke="#3a3a42" stroke-width="0.35">45%</text>
<text transform="translate(36.76 233.99) scale(0.3013 0.3239)" font-family='"Liberation Sans", sans-serif' font-size="20" fill="#3a3a42" stroke="#3a3a42" stroke-width="0.35">50%</text>
<text transform="translate(36.76 216.54) scale(0.3013 0.3262)" font-family='"Liberation Sans", sans-serif' font-size="20" fill="#3a3a42" stroke="#3a3a42" stroke-width="0.35">55%</text>
<text transform="translate(36.70 199.10) scale(0.3029 0.3239)" font-family='"Liberation Sans", sans-serif' font-size="20" fill="#3a3a42" stroke="#3a3a42" stroke-width="0.35">60%</text>
<text transform="translate(36.70 181.65) scale(0.3029 0.3239)" font-family='"Liberation Sans", sans-serif' font-size="20" fill="#3a3a42" stroke="#3a3a42" stroke-width="0.35">65%</text>
<text transform="translate(36.70 164.21) scale(0.3029 0.3239)" font-family='"Liberation Sans", sans-serif' font-size="20" fill="#3a3a42" stroke="#3a3a42" stroke-width="0.35">70%</text>
<text transform="translate(36.70 146.76) scale(0.3029 0.3262)" font-family='"Liberation Sans", sans-serif' font-size="20" fill="#3a3a42" stroke="#3a3a42" stroke-width="0.35">75%</text>
<text transform="translate(36.73 129.32) scale(0.3021 0.3239)" font-family='"Liberation Sans", sans-serif' font-size="20" fill="#3a3a42" stroke="#3a3a42" stroke-width="0.35">80%</text>
<text transform="translate(36.73 111.87) scale(0.3021 0.3239)" font-family='"Liberation Sans", sans-serif' font-size="20" fill="#3a3a42" stroke="#3a3a42" stroke-width="0.35">85%</text>
<text transform="translate(36.73 94.43) scale(0.3021 0.3239)" font-family='"Liberation Sans", sans-serif' font-size="20" fill="#3a3a42" stroke="#3a3a42" stroke-width="0.35">90%</text>
<text transform="translate(36.73 76.98) scale(0.3021 0.3239)" font-family='"Liberation Sans", sans-serif' font-size="20" fill="#3a3a42" stroke="#3a3a42" stroke-width="0.35">95%</text>
<text transform="rotate(-90 24.20 247.00) translate(24.20 251.54) scale(0.2991 0.3129)" font-family='"Liberation Sans", sans-serif' font-size="20" fill="#3a3a42" stroke="#3a3a42" stroke-width="0.35">Abundance</text>
<text transform="rotate(45 62.85 413.50) translate(62.37 417.50) scale(0.3013 0.2899)" font-family='"Liberation Sans", sans-serif' font-size="20" fill="#3a3a42" stroke="#3a3a42" stroke-width="0.35">NC1</text>
<text transform="rotate(45 77.78 413.50) translate(77.30 417.50) scale(0.3021 0.2899)" font-family='"Liberation Sans", sans-serif' font-size="20" fill="#3a3a42" stroke="#3a3a42" stroke-width="0.35">NC2</text>
<text transform="rotate(45 92.72 413.50) translate(92.24 417.50) scale(0.3005 0.2899)" font-family='"Liberation Sans", sans-serif' font-size="20" fill="#3a3a42" stroke="#3a3a42" stroke-width="0.35">NC3</text>
<text transform="rotate(45 107.66 413.50) translate(107.18 417.50) scale(0.2989 0.2899)" font-family='"Liberation Sans", sans-serif' font-size="20" fill="#3a3a42" stroke="#3a3a42" stroke-width="0.35">NC4</text>
<text transform="rotate(45 122.59 413.50) translate(122.11 417.50) scale(0.3005 0.2899)" font-family='"Liberation Sans", sans-serif' font-size="20" fill="#3a3a42" stroke="#3a3a42" stroke-width="0.35">NC5</text>
<text transform="rotate(45 137.52 413.50) translate(137.04 417.50) scale(0.3005 0.2899)" font-family='"Liberation Sans", sans-serif' font-size="20" fill="#3a3a42" stroke="#3a3a42" stroke-width="0.35">NC6</text>
<text transform="rotate(45 152.46 413.50) translate(152.46 417.50) scale(0.2690 0.2899)" font-family='"Liberation Sans", sans-serif' font-size="20" fill="#3a3a42" stroke="#3a3a42" stroke-width="0.35">Amp1</text>
<text transform="rotate(45 167.39 413.50) translate(167.39 417.50) scale(0.2695 0.2899)" font-family='"Liberation Sans", sans-serif' font-size="20" fill="#3a3a42" stroke="#3a3a42" stroke-width="0.35">Amp2</text>
<text transform="rotate(45 182.33 413.50) translate(182.33 417.50) scale(0.2685 0.2899)" font-family='"Liberation Sans", sans-serif' font-size="20" fill="#3a3a42" stroke="#3a3a42" stroke-width="0.35">Amp3</text>
<text transform="rotate(45 197.26 413.50) translate(197.26 417.50) scale(0.2674 0.2899)" font-family='"Liberation Sans", sans-serif' font-size="20" fill="#3a3a42" stroke="#3a3a42" stroke-width="0.35">Amp4</text>
<text transform="rotate(45 212.20 413.50) translate(212.20 417.50) scale(0.2685 0.2899)" font-family='"Liberation Sans", sans-serif' font-size="20" fill="#3a3a42" stroke="#3a3a42" stroke-width="0.35">Amp5</text>
<text transform="rotate(45 227.13 413.50) translate(227.13 417.50) scale(0.2685 0.2899)" font-family='"Liberation Sans", sans-serif' font-size="20" fill="#3a3a42" stroke="#3a3a42" stroke-width="0.35">Amp6</text>
<text transform="rotate(45 242.07 413.50) translate(242.07 417.50) scale(0.2831 0.2899)" font-family='"Liberation Sans", sans-serif' font-size="20" fill="#3a3a42" stroke="#3a3a42" stroke-width="0.35">Amp-LABH1</text>
<text transform="rotate(45 257.00 413.50) translate(257.00 417.50) scale(0.2834 0.2899)" font-family='"Liberation Sans", sans-serif' font-size="20" fill="#3a3a42" stroke="#3a3a42" stroke-width="0.35">Amp-LABH2</text>
<text transform="rotate(45 271.94 413.50) translate(271.94 417.50) scale(0.2829 0.2899)" font-family='"Liberation Sans", sans-serif' font-size="20" fill="#3a3a42" stroke="#3a3a42" stroke-width="0.35">Amp-LABH3</text>
<text transform="rotate(45 286.88 413.50) translate(286.88 417.50) scale(0.2824 0.2899)" font-family='"Liberation Sans", sans-serif' font-size="20" fill="#3a3a42" stroke="#3a3a42" stroke-width="0.35">Amp-LABH4</text>
<text transform="rotate(45 301.81 413.50) translate(301.81 417.50) scale(0.2829 0.2899)" font-family='"Liberation Sans", sans-serif' font-size="20" fill="#3a3a42" stroke="#3a3a42" stroke-width="0.35">Amp-LABH5</text>
<text transform="rotate(45 316.75 413.50) translate(316.75 417.50) scale(0.2829 0.2899)" font-family='"Liberation Sans", sans-serif' font-size="20" fill="#3a3a42" stroke="#3a3a42" stroke-width="0.35">Amp-LABH6</text>
<text transform="rotate(45 331.68 413.50) translate(331.68 417.50) scale(0.2919 0.2899)" font-family='"Liberation Sans", sans-serif' font-size="20" fill="#3a3a42" stroke="#3a3a42" stroke-width="0.35">Amp-LABL1</text>
<text transform="rotate(45 346.61 413.50) translate(346.61 417.50) scale(0.2921 0.2899)" font-family='"Liberation Sans", sans-serif' font-size="20" fill="#3a3a42" stroke="#3a3a42" stroke-width="0.35">Amp-LABL2</text>
<text transform="rotate(45 361.55 413.50) translate(361.55 417.50) scale(0.2916 0.2899)" font-family='"Liberation Sans", sans-serif' font-size="20" fill="#3a3a42" stroke="#3a3a42" stroke-width="0.35">Amp-LABL3</text>
<text transform="rotate(45 376.48 413.50) translate(376.48 417.50) scale(0.2910 0.2899)" font-family='"Liberation Sans", sans-serif' font-size="20" fill="#3a3a42" stroke="#3a3a42" stroke-width="0.35">Amp-LABL4</text>
<text transform="rotate(45 391.42 413.50) translate(391.42 417.50) scale(0.2916 0.2899)" font-family='"Liberation Sans", sans-serif' font-size="20" fill="#3a3a42" stroke="#3a3a42" stroke-width="0.35">Amp-LABL5</text>
<text transform="rotate(45 406.35 413.50) translate(406.35 417.50) scale(0.2916 0.2899)" font-family='"Liberation Sans", sans-serif' font-size="20" fill="#3a3a42" stroke="#3a3a42" stroke-width="0.35">Amp-LABL6</text>
<text transform="rotate(-45 99.90 49.80) translate(99.42 49.80) scale(0.3019 0.2899)" font-family='"Liberation Sans", sans-serif' font-size="20" fill="#3a3a42" stroke="#3a3a42" stroke-width="0.35">NC</text>
<text transform="rotate(-45 190.00 49.80) translate(190.00 49.80) scale(0.2730 0.2899)" font-family='"Liberation Sans", sans-serif' font-size="20" fill="#3a3a42" stroke="#3a3a42" stroke-width="0.35">Amp</text>
<text transform="rotate(-45 279.20 49.80) translate(279.20 49.80) scale(0.2929 0.2899)" font-family='"Liberation Sans", sans-serif' font-size="20" fill="#3a3a42" stroke="#3a3a42" stroke-width="0.35">Amp/LABH</text>
<text transform="rotate(-45 368.10 49.80) translate(368.10 49.80) scale(0.2884 0.2899)" font-family='"Liberation Sans", sans-serif' font-size="20" fill="#3a3a42" stroke="#3a3a42" stroke-width="0.35">Amp/LABL</text>
<rect x="421.80" y="312.30" width="4.20" height="4.20" fill="#969696"/>
<text transform="translate(433.22 316.60) scale(0.2932 0.3188)" font-family='"Liberation Sans", sans-serif' font-size="20" fill="#3a3a42" stroke="#3a3a42" stroke-width="0.35">k__Bacteria, p__TM7</text>
<rect x="421.80" y="321.79" width="4.20" height="4.20" fill="#9e9ac8"/>
<text transform="translate(433.22 326.09) scale(0.2932 0.3188)" font-family='"Liberation Sans", sans-serif' font-size="20" fill="#3a3a42" stroke="#3a3a42" stroke-width="0.35">k__Bacteria, p__Cyanobacteria</text>
<rect x="421.80" y="331.28" width="4.20" height="4.20" fill="#74c476"/>
<text transform="translate(433.22 335.58) scale(0.2932 0.3188)" font-family='"Liberation Sans", sans-serif' font-size="20" fill="#3a3a42" stroke="#3a3a42" stroke-width="0.35">k__Bacteria, p__Tenericutes</text>
<rect x="421.80" y="340.77" width="4.20" height="4.20" fill="#fd8d3c"/>
<text transform="translate(433.22 345.07) scale(0.2932 0.3188)" font-family='"Liberation Sans", sans-serif' font-size="20" fill="#3a3a42" stroke="#3a3a42" stroke-width="0.35">k__Bacteria, p__Fusobacteria</text>
<rect x="421.80" y="350.26" width="4.20" height="4.20" fill="#6baed6"/>
<text transform="translate(433.22 354.56) scale(0.2932 0.3188)" font-family='"Liberation Sans", sans-serif' font-size="20" fill="#3a3a42" stroke="#3a3a42" stroke-width="0.35">k__Bacteria, p__Deferribacteres</text>
<rect x="421.80" y="359.75" width="4.20" height="4.20" fill="#636363"/>
<text transform="translate(433.22 364.05) scale(0.2932 0.3188)" font-family='"Liberation Sans", sans-serif' font-size="20" fill="#3a3a42" stroke="#3a3a42" stroke-width="0.35">k__Bacteria, p__Actinobacteria</text>
<rect x="421.80" y="369.24" width="4.20" height="4.20" fill="#756bb1"/>
<text transform="translate(433.22 373.54) scale(0.2932 0.3188)" font-family='"Liberation Sans", sans-serif' font-size="20" fill="#3a3a42" stroke="#3a3a42" stroke-width="0.35">k__Bacteria, p__Verrucomicrobia</text>
<rect x="421.80" y="378.73" width="4.20" height="4.20" fill="#31a354"/>
<text transform="translate(433.22 383.03) scale(0.2932 0.3188)" font-family='"Liberation Sans", sans-serif' font-size="20" fill="#3a3a42" stroke="#3a3a42" stroke-width="0.35">k__Bacteria, p__Firmicutes</text>
<rect x="421.80" y="388.22" width="4.20" height="4.20" fill="#e6550d"/>
<text transform="translate(433.22 392.52) scale(0.2932 0.3188)" font-family='"Liberation Sans", sans-serif' font-size="20" fill="#3a3a42" stroke="#3a3a42" stroke-width="0.35">k__Bacteria, p__Bacteroidetes</text>
<rect x="421.80" y="397.71" width="4.20" height="4.20" fill="#3182bd"/>
<text transform="translate(433.22 402.01) scale(0.2932 0.3188)" font-family='"Liberation Sans", sans-serif' font-size="20" fill="#3a3a42" stroke="#3a3a42" stroke-width="0.35">k__Bacteria, p__Proteobacteria</text>
<rect x="167.45" y="1071.45" width="3.70" height="299.50" fill="#000"/>
<rect x="153.60" y="1367.65" width="376.40" height="3.30" fill="#000"/>
<rect x="153.60" y="1071.45" width="15.70" height="3.30" fill="#000"/>
<text transform="translate(111.98 1080.29) scale(1.4000 1.0643)" font-family='"Liberation Sans", sans-serif' font-size="20" fill="#000" font-weight="bold">4.5</text>
<rect x="153.60" y="1170.15" width="15.70" height="3.30" fill="#000"/>
<text transform="translate(111.98 1178.99) scale(1.4157 1.0493)" font-family='"Liberation Sans", sans-serif' font-size="20" fill="#000" font-weight="bold">4.0</text>
<rect x="153.60" y="1268.95" width="15.70" height="3.30" fill="#000"/>
<text transform="translate(111.69 1277.79) scale(1.4104 1.0493)" font-family='"Liberation Sans", sans-serif' font-size="20" fill="#000" font-weight="bold">3.5</text>
<rect x="153.60" y="1367.65" width="15.70" height="3.30" fill="#000"/>
<text transform="translate(111.69 1376.49) scale(1.4264 1.0493)" font-family='"Liberation Sans", sans-serif' font-size="20" fill="#000" font-weight="bold">3.0</text>
<rect x="221.35" y="1369.30" width="3.30" height="12.70" fill="#000"/>
<rect x="304.35" y="1369.30" width="3.30" height="12.70" fill="#000"/>
<rect x="387.68" y="1369.30" width="3.30" height="12.70" fill="#000"/>
<rect x="470.68" y="1369.30" width="3.30" height="12.70" fill="#000"/>
<rect x="221.85" y="1146.70" width="4.60" height="15.40" fill="#000"/>
<rect x="221.85" y="1311.20" width="4.60" height="4.80" fill="#000"/>
<rect x="210.35" y="1144.60" width="27.60" height="4.20" fill="#000"/>
<rect x="210.35" y="1313.90" width="27.60" height="4.20" fill="#000"/>
<rect x="199.00" y="1163.40" width="50.30" height="146.50" fill="#fff" stroke="#000" stroke-width="4.6"/>
<rect x="197.70" y="1225.00" width="52.90" height="4.20" fill="#000"/>
<rect x="304.25" y="1201.10" width="4.60" height="3.20" fill="#000"/>
<rect x="304.25" y="1323.00" width="4.60" height="18.80" fill="#000"/>
<rect x="292.75" y="1199.00" width="27.60" height="4.20" fill="#000"/>
<rect x="292.75" y="1339.70" width="27.60" height="4.20" fill="#000"/>
<rect x="281.60" y="1205.60" width="49.90" height="116.10" fill="#fff" stroke="#000" stroke-width="4.6"/>
<rect x="280.30" y="1264.10" width="52.50" height="4.20" fill="#000"/>
<rect x="386.90" y="1178.90" width="4.60" height="7.00" fill="#000"/>
<rect x="386.90" y="1295.00" width="4.60" height="40.60" fill="#000"/>
<rect x="375.40" y="1176.80" width="27.60" height="4.20" fill="#000"/>
<rect x="375.40" y="1333.50" width="27.60" height="4.20" fill="#000"/>
<rect x="364.50" y="1187.20" width="49.40" height="106.50" fill="#fff" stroke="#000" stroke-width="4.6"/>
<rect x="363.20" y="1240.10" width="52.00" height="4.20" fill="#000"/>
<rect x="471.15" y="1090.70" width="4.60" height="24.70" fill="#000"/>
<rect x="471.15" y="1230.10" width="4.60" height="46.10" fill="#000"/>
<rect x="459.65" y="1088.60" width="27.60" height="4.20" fill="#000"/>
<rect x="459.65" y="1274.10" width="27.60" height="4.20" fill="#000"/>
<rect x="448.50" y="1116.70" width="49.90" height="112.10" fill="#fff" stroke="#000" stroke-width="4.6"/>
<rect x="447.20" y="1174.80" width="52.50" height="4.20" fill="#000"/>
<text transform="rotate(-90 72.00 1320.67) translate(70.82 1342.89) scale(1.3144 1.5330)" font-family='"Liberation Sans", sans-serif' font-size="20" fill="#000" stroke="#000" stroke-width="0.9" stroke-linejoin="round">Shannon entropy</text>
<text transform="matrix(0.9947 -0.8179 0.9947 0.8179 205.83 1424.46)" font-family='"Liberation Sans", sans-serif' font-size="20" fill="#000" font-weight="bold">NC</text>
<text transform="matrix(1.0020 -0.8236 1.0020 0.8236 272.92 1437.41)" font-family='"Liberation Sans", sans-serif' font-size="20" fill="#000" font-weight="bold">Amp</text>
<text transform="matrix(0.9706 -0.8013 0.9706 0.8013 297.76 1485.50)" font-family='"Liberation Sans", sans-serif' font-size="20" fill="#000" font-weight="bold">Amp-LABL</text>
<text transform="matrix(0.9630 -0.8027 0.9630 0.8027 377.79 1487.00)" font-family='"Liberation Sans", sans-serif' font-size="20" fill="#000" font-weight="bold">Amp-LABH</text>
<text transform="translate(629.51 1070.20) scale(1.1192 1.1522)" font-family='"Liberation Sans", sans-serif' font-size="20" fill="#111">PCoA - Weighted UniFrac</text>
<defs>
<radialGradient id="gP" cx="0.42" cy="0.38" r="0.62"><stop offset="0" stop-color="#a040ff"/><stop offset="0.55" stop-color="#8000f0"/><stop offset="1" stop-color="#5a00b0"/></radialGradient>
<radialGradient id="gG" cx="0.42" cy="0.38" r="0.62"><stop offset="0" stop-color="#b0ff40"/><stop offset="0.55" stop-color="#7ee800"/><stop offset="1" stop-color="#58a800"/></radialGradient>
<radialGradient id="gR" cx="0.42" cy="0.38" r="0.62"><stop offset="0" stop-color="#ff6040"/><stop offset="0.55" stop-color="#f02808"/><stop offset="1" stop-color="#b01800"/></radialGradient>
<radialGradient id="gC" cx="0.42" cy="0.38" r="0.62"><stop offset="0" stop-color="#70ffe8"/><stop offset="0.55" stop-color="#20e8cc"/><stop offset="1" stop-color="#10a890"/></radialGradient>
</defs>
<line x1="795.00" y1="1322.67" x2="696.00" y2="1142.67" stroke="#0a0a0a" stroke-width="1.45"/>
<line x1="795.00" y1="1322.67" x2="989.33" y2="1315.33" stroke="#0a0a0a" stroke-width="1.45"/>
<line x1="795.00" y1="1322.67" x2="691.67" y2="1484.33" stroke="#0a0a0a" stroke-width="1.45"/>
<circle cx="766.7" cy="1227.7" r="8.1" fill="url(#gG)"/>
<circle cx="807.3" cy="1232.7" r="8.1" fill="url(#gC)"/>
<circle cx="723.7" cy="1261.7" r="8.1" fill="url(#gR)"/>
<circle cx="725.7" cy="1268.7" r="8.1" fill="url(#gR)"/>
<circle cx="746.7" cy="1262.7" r="8.1" fill="url(#gR)"/>
<circle cx="740.7" cy="1242.3" r="8.1" fill="url(#gG)"/>
<circle cx="907.3" cy="1242.3" r="8.1" fill="url(#gG)"/>
<circle cx="898.7" cy="1275.3" r="8.1" fill="url(#gR)"/>
<circle cx="921.7" cy="1297.7" r="8.1" fill="url(#gR)"/>
<circle cx="936.0" cy="1319.3" r="8.1" fill="url(#gC)"/>
<circle cx="937.3" cy="1313.3" r="8.1" fill="url(#gC)"/>
<circle cx="945.7" cy="1326.7" r="8.1" fill="url(#gC)"/>
<circle cx="993.3" cy="1383.3" r="8.1" fill="url(#gC)"/>
<circle cx="1009.0" cy="1415.3" r="8.1" fill="url(#gG)"/>
<circle cx="1017.3" cy="1431.7" r="8.1" fill="url(#gC)"/>
<circle cx="669.9" cy="1339.9" r="8.0" fill="url(#gR)"/>
<path d="M662.59 1337.25 A8.0 8.0 0 0 1 677.21 1343.75 Z" fill="url(#gP)"/>
<circle cx="708.0" cy="1339.7" r="7.3" fill="url(#gP)"/>
<circle cx="732.0" cy="1339.3" r="7.3" fill="url(#gP)"/>
<circle cx="634.3" cy="1374.7" r="7.3" fill="url(#gP)"/>
<circle cx="667.0" cy="1368.0" r="7.3" fill="url(#gP)"/>
<circle cx="653.7" cy="1363.7" r="7.3" fill="url(#gG)"/>
<circle cx="701.0" cy="1368.0" r="7.3" fill="url(#gP)"/>
<circle cx="687.7" cy="1386.7" r="7.3" fill="url(#gG)"/>
<text transform="translate(705.07 1142.19) scale(0.6887 0.6524)" font-family='"Liberation Sans", sans-serif' font-size="20" fill="#111" font-weight="bold">PCo 2 (14%)</text>
<text transform="translate(999.09 1315.25) scale(0.6973 0.6542)" font-family='"Liberation Sans", sans-serif' font-size="20" fill="#111" font-weight="bold">PCo 1 (70%)</text>
<text transform="translate(699.75 1483.56) scale(0.7045 0.6595)" font-family='"Liberation Sans", sans-serif' font-size="20" fill="#111" font-weight="bold">PCo 3 (5%)</text>
<rect x="1115.59" y="1106.17" width="241.57" height="120.21" fill="#efefef" stroke="#9c9ca8" stroke-width="1"/>
<rect x="1116.75" y="1115.37" width="21.86" height="14.38" fill="#7d10ff" stroke="#444" stroke-width="0.8"/>
<text transform="translate(1143.45 1126.59) scale(0.5530 0.6586)" font-family='"Liberation Serif", serif' font-size="20" fill="#111" stroke="#111" stroke-width="0.7">NC</text>
<rect x="1116.75" y="1144.71" width="21.86" height="14.38" fill="#80ff00" stroke="#444" stroke-width="0.8"/>
<text transform="translate(1143.67 1155.92) scale(0.5235 0.6586)" font-family='"Liberation Serif", serif' font-size="20" fill="#111" stroke="#111" stroke-width="0.7">Amp</text>
<rect x="1116.75" y="1174.33" width="21.86" height="14.38" fill="#ff3010" stroke="#444" stroke-width="0.8"/>
<text transform="translate(1143.67 1185.54) scale(0.5184 0.6586)" font-family='"Liberation Serif", serif' font-size="20" fill="#111" stroke="#111" stroke-width="0.7">Amp/LABH</text>
<rect x="1116.75" y="1203.08" width="21.86" height="14.38" fill="#20ffd8" stroke="#444" stroke-width="0.8"/>
<text transform="translate(1143.67 1214.30) scale(0.5191 0.6586)" font-family='"Liberation Serif", serif' font-size="20" fill="#111" stroke="#111" stroke-width="0.7">Amp/LABL</text>
<text transform="translate(1115.78 1265.49) scale(0.9619 1.0003)" font-family='"Liberation Sans", sans-serif' font-size="20" fill="#111">PERMANOVA analysis (Weighted UniFrac)</text>
<rect x="1115.31" y="1289.07" width="124.81" height="26.75" fill="#4f81bd"/>
<text transform="translate(1145.82 1308.84) scale(0.8294 0.8551)" font-family='"Liberation Sans", sans-serif' font-size="20" fill="#111" font-weight="bold">Group 1</text>
<rect x="1241.84" y="1289.07" width="124.81" height="26.75" fill="#4f81bd"/>
<text transform="translate(1272.48 1308.84) scale(0.8294 0.8551)" font-family='"Liberation Sans", sans-serif' font-size="20" fill="#111" font-weight="bold">Group 2</text>
<rect x="1368.38" y="1289.07" width="124.81" height="26.75" fill="#4f81bd"/>
<text transform="translate(1401.51 1308.84) scale(0.8294 0.8551)" font-family='"Liberation Sans", sans-serif' font-size="20" fill="#111" font-weight="bold">p-value</text>
<rect x="1115.31" y="1319.56" width="124.81" height="26.46" fill="#d0d8e8"/>
<text transform="translate(1165.24 1337.58) scale(0.8400 0.8116)" font-family='"Liberation Sans", sans-serif' font-size="20" fill="#111">NC</text>
<rect x="1241.84" y="1319.56" width="124.81" height="26.46" fill="#d0d8e8"/>
<text transform="translate(1287.32 1337.58) scale(0.8400 0.8116)" font-family='"Liberation Sans", sans-serif' font-size="20" fill="#111">Amp</text>
<rect x="1368.38" y="1319.56" width="124.81" height="26.46" fill="#d0d8e8"/>
<text transform="translate(1400.50 1337.58) scale(0.8400 0.8116)" font-family='"Liberation Sans", sans-serif' font-size="20" fill="#111">0.03247</text>
<rect x="1115.31" y="1347.45" width="124.81" height="28.18" fill="#e9edf4"/>
<text transform="translate(1165.24 1366.34) scale(0.8400 0.8116)" font-family='"Liberation Sans", sans-serif' font-size="20" fill="#111">NC</text>
<rect x="1241.84" y="1347.45" width="124.81" height="28.18" fill="#e9edf4"/>
<text transform="translate(1263.38 1366.34) scale(0.8400 0.8116)" font-family='"Liberation Sans", sans-serif' font-size="20" fill="#111">Amp/LABH</text>
<rect x="1368.38" y="1347.45" width="124.81" height="28.18" fill="#e9edf4"/>
<text transform="translate(1400.46 1366.34) scale(0.8400 0.8116)" font-family='"Liberation Sans", sans-serif' font-size="20" fill="#111">0.00649</text>
<rect x="1115.31" y="1377.07" width="124.81" height="27.90" fill="#d0d8e8"/>
<text transform="translate(1165.24 1395.82) scale(0.8400 0.8116)" font-family='"Liberation Sans", sans-serif' font-size="20" fill="#111">NC</text>
<rect x="1241.84" y="1377.07" width="124.81" height="27.90" fill="#d0d8e8"/>
<text transform="translate(1264.35 1395.82) scale(0.8400 0.8116)" font-family='"Liberation Sans", sans-serif' font-size="20" fill="#111">Amp/LABL</text>
<rect x="1368.38" y="1377.07" width="124.81" height="27.90" fill="#d0d8e8"/>
<text transform="translate(1400.42 1395.82) scale(0.8400 0.8116)" font-family='"Liberation Sans", sans-serif' font-size="20" fill="#111">0.00216</text>
<rect x="1115.31" y="1406.41" width="124.81" height="28.18" fill="#e9edf4"/>
<text transform="translate(1160.79 1425.30) scale(0.8400 0.8116)" font-family='"Liberation Sans", sans-serif' font-size="20" fill="#111">Amp</text>
<rect x="1241.84" y="1406.41" width="124.81" height="28.18" fill="#e9edf4"/>
<text transform="translate(1263.38 1425.30) scale(0.8400 0.8116)" font-family='"Liberation Sans", sans-serif' font-size="20" fill="#111">Amp/LABH</text>
<rect x="1368.38" y="1406.41" width="124.81" height="28.18" fill="#e9edf4"/>
<text transform="translate(1400.42 1425.30) scale(0.8400 0.8116)" font-family='"Liberation Sans", sans-serif' font-size="20" fill="#111">0.54545</text>
<rect x="1115.31" y="1436.03" width="124.81" height="27.32" fill="#d0d8e8"/>
<text transform="translate(1160.79 1454.49) scale(0.8400 0.8116)" font-family='"Liberation Sans", sans-serif' font-size="20" fill="#111">Amp</text>
<rect x="1241.84" y="1436.03" width="124.81" height="27.32" fill="#d0d8e8"/>
<text transform="translate(1264.35 1454.49) scale(0.8400 0.8116)" font-family='"Liberation Sans", sans-serif' font-size="20" fill="#111">Amp/LABL</text>
<rect x="1368.38" y="1436.03" width="124.81" height="27.32" fill="#d0d8e8"/>
<text transform="translate(1400.50 1454.49) scale(0.8400 0.8116)" font-family='"Liberation Sans", sans-serif' font-size="20" fill="#111">0.04762</text>
<rect x="1115.31" y="1464.78" width="124.81" height="27.90" fill="#e9edf4"/>
<text transform="translate(1136.85 1483.53) scale(0.8400 0.8116)" font-family='"Liberation Sans", sans-serif' font-size="20" fill="#111">Amp/LABH</text>
<rect x="1241.84" y="1464.78" width="124.81" height="27.90" fill="#e9edf4"/>
<text transform="translate(1264.35 1483.53) scale(0.8400 0.8116)" font-family='"Liberation Sans", sans-serif' font-size="20" fill="#111">Amp/LABL</text>
<rect x="1368.38" y="1464.78" width="124.81" height="27.90" fill="#e9edf4"/>
<text transform="translate(1400.50 1483.53) scale(0.8400 0.8116)" font-family='"Liberation Sans", sans-serif' font-size="20" fill="#111">0.01732</text>
<text x="277.45" y="533.60" font-family='"Liberation Serif", serif' font-size="29.9" fill="#000">(<tspan font-weight="bold" font-size="31.2" x="286.76" dy="0.6">a</tspan><tspan x="302.00" dy="-0.6">)</tspan></text>
<text x="792.55" y="533.60" font-family='"Liberation Serif", serif' font-size="29.9" fill="#000">(<tspan font-weight="bold" font-size="31.2" x="802.59" dy="0.6">b</tspan><tspan x="820.10" dy="-0.6">)</tspan></text>
<text x="1269.25" y="533.60" font-family='"Liberation Serif", serif' font-size="29.9" fill="#000">(<tspan font-weight="bold" font-size="31.2" x="1278.81" dy="0.6">c</tspan><tspan x="1290.90" dy="-0.6">)</tspan></text>
<text x="276.25" y="1022.50" font-family='"Liberation Serif", serif' font-size="29.9" fill="#000">(<tspan font-weight="bold" font-size="31.2" x="285.55" dy="0.6">d</tspan><tspan x="303.00" dy="-0.6">)</tspan></text>
<text x="796.55" y="1022.50" font-family='"Liberation Serif", serif' font-size="29.9" fill="#000">(<tspan font-weight="bold" font-size="31.2" x="805.91" dy="0.6">e</tspan><tspan x="820.00" dy="-0.6">)</tspan></text>
<text x="1258.55" y="1022.50" font-family='"Liberation Serif", serif' font-size="29.9" fill="#000">(<tspan font-weight="bold" font-size="31.2" x="1268.94" dy="0.6">f</tspan><tspan x="1278.90" dy="-0.6">)</tspan></text>
<text x="277.80" y="1555.50" font-family='"Liberation Serif", serif' font-size="26.6" fill="#000">(<tspan font-weight="bold" font-size="27.5" x="286.51" dy="0.6">g</tspan><tspan x="301.10" dy="-0.6">)</tspan></text>
<text x="1042.50" y="1555.50" font-family='"Liberation Serif", serif' font-size="26.6" fill="#000">(<tspan font-weight="bold" font-size="27.5" x="1050.31" dy="0.6">h</tspan><tspan x="1066.90" dy="-0.6">)</tspan></text>
</svg>
</body></html>
